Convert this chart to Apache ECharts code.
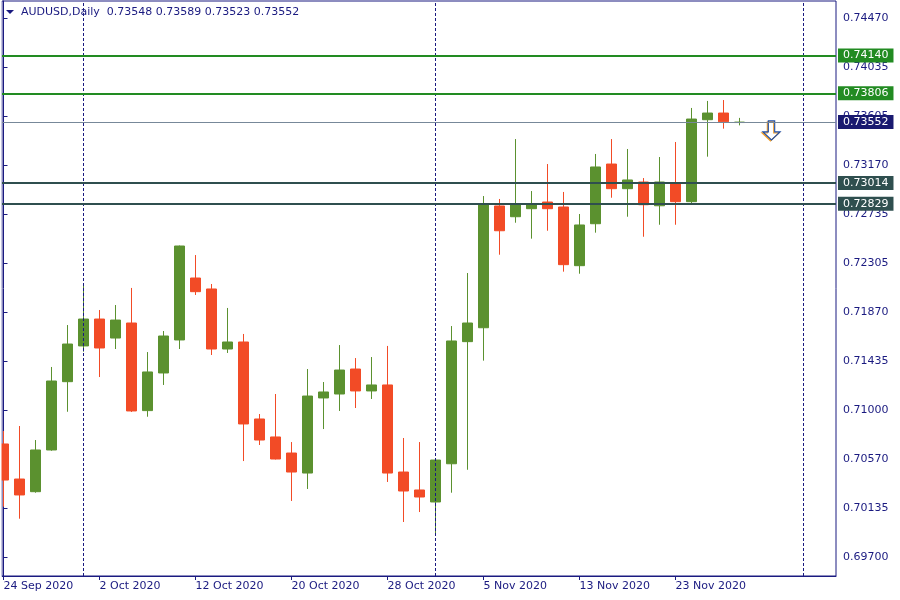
<!DOCTYPE html>
<html><head><meta charset="utf-8">
<script src="https://cdn.jsdelivr.net/npm/echarts@6/dist/echarts.min.js"></script>
<style>html,body{margin:0;padding:0;background:#fff}#c{width:900px;height:600px}</style>
</head><body><div id="c"></div>
<script>
// ---- data ----
const symbolName = 'AUDUSD';
const periodName = 'Daily';
const dates = ['24 Sep 2020','25 Sep 2020','28 Sep 2020','29 Sep 2020','30 Sep 2020','1 Oct 2020','2 Oct 2020','5 Oct 2020','6 Oct 2020','7 Oct 2020','8 Oct 2020','9 Oct 2020','12 Oct 2020','13 Oct 2020','14 Oct 2020','15 Oct 2020','16 Oct 2020','19 Oct 2020','20 Oct 2020','21 Oct 2020','22 Oct 2020','23 Oct 2020','26 Oct 2020','27 Oct 2020','28 Oct 2020','29 Oct 2020','30 Oct 2020','2 Nov 2020','3 Nov 2020','4 Nov 2020','5 Nov 2020','6 Nov 2020','9 Nov 2020','10 Nov 2020','11 Nov 2020','12 Nov 2020','13 Nov 2020','16 Nov 2020','17 Nov 2020','18 Nov 2020','19 Nov 2020','20 Nov 2020','23 Nov 2020','24 Nov 2020','25 Nov 2020','26 Nov 2020','27 Nov 2020'];
const opens  = [0.70705,0.70395,0.70283,0.70652,0.71256,0.71572,0.71810,0.71642,0.71775,0.71000,0.71333,0.71625,0.72173,0.72076,0.71545,0.71607,0.70926,0.70767,0.70625,0.70448,0.71112,0.71147,0.71368,0.71174,0.71227,0.70457,0.70298,0.70192,0.70530,0.71610,0.71733,0.72810,0.72715,0.72786,0.72845,0.72801,0.72282,0.72653,0.73181,0.72963,0.73022,0.72812,0.73004,0.72848,0.73573,0.73632,0.73548];
const highs  = [0.70820,0.70864,0.70740,0.71386,0.71757,0.72102,0.71890,0.71934,0.72085,0.71518,0.71704,0.72460,0.72376,0.72120,0.71908,0.71678,0.70970,0.71147,0.70722,0.71368,0.71253,0.71580,0.71465,0.71474,0.71572,0.70758,0.70722,0.70568,0.71748,0.72217,0.72898,0.72872,0.73402,0.72942,0.73181,0.72934,0.72739,0.73270,0.73402,0.73314,0.73057,0.73243,0.73376,0.73677,0.73739,0.73747,0.73589];
const lows   = [0.70150,0.70044,0.70274,0.70645,0.70990,0.71521,0.71297,0.71545,0.70988,0.70946,0.71227,0.71545,0.72023,0.71492,0.71510,0.70554,0.70696,0.70568,0.70201,0.70307,0.70837,0.70997,0.71023,0.71103,0.70369,0.70015,0.70103,0.69900,0.70274,0.70477,0.71442,0.72379,0.72662,0.72521,0.72591,0.72229,0.72211,0.72574,0.72883,0.72715,0.72538,0.72644,0.72644,0.72825,0.73246,0.73494,0.73523];
const closes = [0.70386,0.70254,0.70652,0.71262,0.71589,0.71810,0.71554,0.71801,0.70997,0.71342,0.71660,0.72456,0.72052,0.71545,0.71607,0.70882,0.70740,0.70572,0.70457,0.71129,0.71165,0.71359,0.71174,0.71227,0.70448,0.70289,0.70236,0.70563,0.71616,0.71775,0.72828,0.72591,0.72828,0.72830,0.72786,0.72291,0.72642,0.73155,0.72963,0.73040,0.72821,0.73022,0.72848,0.73579,0.73632,0.73555,0.73552];
const priceTicks = ['0.69700','0.70135','0.70570','0.71000','0.71435','0.71870','0.72305','0.72735','0.73170','0.73605','0.74035','0.74470'];
const dateTicks = ['24 Sep 2020','2 Oct 2020','12 Oct 2020','20 Oct 2020','28 Oct 2020','5 Nov 2020','13 Nov 2020','23 Nov 2020'];
const separatorIdx = [5, 27, 50];
const resistLevels = [0.74140, 0.73806];
const supportLevels = [0.73014, 0.72829];
const bidPrice = 0.73552;
const sellArrow = [48, 0.73478];

// ---- styles ----
const NAVY = '#1a1a80';
const UP = '#5b912f';
const DOWN = '#f24b26';
const FONT = 'DejaVu Sans';

const candleData = dates.map((d, i) => [i, opens[i], closes[i], lows[i], highs[i]]);
const tickIdx = dateTicks.map(t => dates.indexOf(t));
const tickVals = priceTicks.map(Number);
const last = dates.length - 1;
const titleText = symbolName + ',' + periodName + '  ' +
  [opens[last], highs[last], lows[last], closes[last]].map(v => v.toFixed(5)).join(' ');

function levelLine(v, color, width, boxColor) {
  return {
    yAxis: v,
    lineStyle: { color: color, width: width, type: 'solid' },
    label: {
      show: true, position: 'end', distance: 2, formatter: v.toFixed(5),
      color: '#ffffff', backgroundColor: boxColor || color, padding: [2, 5, 1, 5],
      fontFamily: FONT, fontSize: 11
    }
  };
}

const chart = echarts.init(document.getElementById('c'), null, { renderer: 'canvas' });
chart.setOption({
  animation: false,
  backgroundColor: '#ffffff',
  title: {
    text: titleText, left: 16, top: 2,
    textStyle: { color: NAVY, fontFamily: FONT, fontSize: 11, fontWeight: 'normal' }
  },
  graphic: [
    { type: 'rect', left: 0, top: 0, z: 100, shape: { x: 0, y: 0, width: 1.5, height: 580 }, style: { fill: '#ffffff' } },
    { type: 'polygon', left: 6, top: 10, z: 101, shape: { points: [[0, 0], [8, 0], [4, 4]] }, style: { fill: NAVY } }
  ],
  grid: { left: 2, right: 64, top: 1, bottom: 24, show: true, borderColor: NAVY, borderWidth: 1, backgroundColor: '#ffffff' },
  xAxis: {
    type: 'value', min: -0.09375, max: 52.03125,
    axisLine: { show: true, lineStyle: { color: NAVY, width: 1 } },
    axisTick: { show: true, customValues: tickIdx, length: 4, lineStyle: { color: NAVY } },
    axisLabel: {
      customValues: tickIdx, align: 'left', margin: 5,
      formatter: v => dates[Math.round(v)] || '',
      color: NAVY, fontFamily: FONT, fontSize: 11
    },
    splitLine: { show: false }
  },
  yAxis: {
    type: 'value', position: 'right', min: 0.695373, max: 0.74623,
    axisLine: { show: true, lineStyle: { color: NAVY, width: 1 } },
    axisTick: { show: true, customValues: tickVals, length: 4, inside: false, lineStyle: { color: NAVY } },
    axisLabel: {
      customValues: tickVals, margin: 7,
      formatter: v => { let best = priceTicks[0]; let d = 1; priceTicks.forEach(t => { const dd = Math.abs(Number(t) - v); if (dd < d) { d = dd; best = t; } }); return best; },
      color: NAVY, fontFamily: FONT, fontSize: 11
    },
    splitLine: { show: false }
  },
  series: [
    {
      type: 'candlestick', data: candleData, barWidth: 10, z: 3, clip: true,
      itemStyle: { color: UP, color0: DOWN, borderColor: UP, borderColor0: DOWN, borderWidth: 1 },
      markLine: {
        silent: true, symbol: 'none', animation: false, precision: 5,
        data: [
          ...separatorIdx.map(x => ({ xAxis: x, lineStyle: { color: NAVY, width: 1, type: [3, 2] }, label: { show: false } })),
          ...resistLevels.map(v => levelLine(v, '#228b22', 2)),
          ...supportLevels.map(v => levelLine(v, '#2f4f4f', 2)),
          levelLine(bidPrice, '#778899', 1, '#191970')
        ]
      }
    },
    {
      type: 'scatter', data: [sellArrow], z: 4, silent: true,
      symbol: 'path://M5,0 L11,0 L11,11 L16,11 L8,19 L0,11 L5,11 Z',
      symbolSize: [17, 19],
      itemStyle: { color: '#ffffff', borderColor: '#1f4fa8', borderWidth: 1.2, shadowColor: '#f0a030', shadowOffsetX: -1, shadowOffsetY: 1, shadowBlur: 0, opacity: 1 }
    }
  ]
});
</script>
</body></html>
